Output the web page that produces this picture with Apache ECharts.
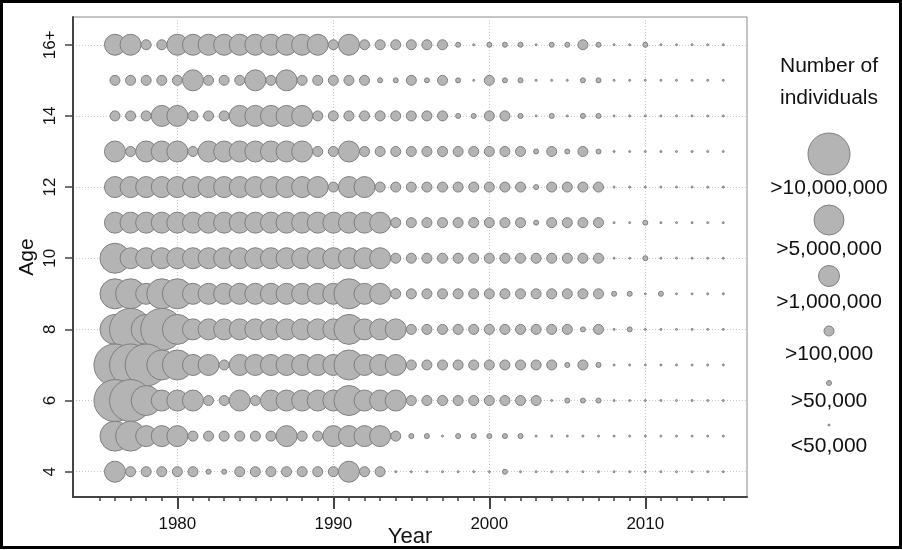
<!DOCTYPE html>
<html>
<head>
<meta charset="utf-8">
<title>Number of individuals by age and year</title>
<script src="https://cdn.jsdelivr.net/npm/echarts@6/dist/echarts.min.js"></script>
<style>
  html, body { margin: 0; padding: 0; background: #fff; }
  #chart { width: 902px; height: 550px; }
</style>
</head>
<body>
<div id="chart"></div>
<script>
// x categories
const years = [1976, 1977, 1978, 1979, 1980, 1981, 1982, 1983, 1984, 1985,
               1986, 1987, 1988, 1989, 1990, 1991, 1992, 1993, 1994, 1995,
               1996, 1997, 1998, 1999, 2000, 2001, 2002, 2003, 2004, 2005,
               2006, 2007, 2008, 2009, 2010, 2011, 2012, 2013, 2014, 2015];

// size class read for each year (0 = <50,000 ... 5 = >10,000,000)
const age16 = [3,3,2,2,3,3,3,3,3,3, 3,3,3,3,2,3,2,2,2,2, 2,2,1,0,1,1,1,0,1,1, 2,1,0,0,1,0,0,0,0,0];
const age15 = [2,2,2,2,2,3,2,2,2,3, 2,3,2,2,2,2,2,1,1,2, 1,2,1,0,2,1,1,0,0,0, 1,1,0,0,0,0,0,0,0,0];
const age14 = [2,2,2,3,3,2,2,2,3,3, 3,3,3,2,2,2,2,2,2,2, 2,2,1,1,2,2,1,0,1,0, 1,1,0,0,0,0,0,0,0,0];
const age13 = [3,2,3,3,3,2,3,3,3,3, 3,3,3,2,2,3,2,2,2,2, 2,2,2,2,2,2,2,1,2,1, 2,1,0,0,0,0,0,0,0,0];
const age12 = [3,3,3,3,3,3,3,3,3,3, 3,3,3,3,2,3,3,2,2,2, 2,2,2,2,2,2,2,1,2,2, 2,2,0,0,0,0,0,0,0,0];
const age11 = [3,3,3,3,3,3,3,3,3,3, 3,3,3,3,3,3,3,3,2,2, 2,2,2,2,2,2,2,1,2,2, 2,2,0,0,1,0,0,0,0,0];
const age10 = [4,3,3,3,3,3,3,3,3,3, 3,3,3,3,3,3,3,3,2,2, 2,2,2,2,2,2,2,2,2,2, 2,2,0,0,1,0,0,0,0,0];
const age9  = [4,4,3,4,4,3,3,3,3,3, 3,3,3,3,3,4,3,3,2,2, 2,2,2,2,2,2,2,2,2,2, 2,2,1,1,0,1,0,0,0,0];
const age8  = [4,5,4,5,4,3,3,3,3,3, 3,3,3,3,3,4,3,3,3,2, 2,2,2,2,2,2,2,2,2,2, 1,2,0,1,0,0,0,0,0,0];
const age7  = [5,5,5,4,4,3,3,2,3,3, 3,3,3,3,3,4,3,3,3,2, 2,2,2,2,2,2,2,2,2,1, 2,1,0,0,0,0,0,0,0,0];
const age6  = [5,5,4,3,3,3,2,2,3,2, 3,3,3,3,3,4,3,3,3,2, 2,2,2,2,2,2,2,2,0,1, 1,1,0,0,0,0,0,0,0,0];
const age5  = [4,4,3,3,3,2,2,2,2,2, 2,3,2,2,3,3,3,3,2,1, 1,0,1,1,1,1,1,0,0,0, 0,0,0,0,0,0,0,0,0,0];
const age4  = [3,2,2,2,2,2,1,1,2,2, 2,2,2,2,2,3,2,2,0,0, 0,0,0,0,0,1,0,0,0,0, 0,0,0,0,0,0,0,0,0,0];

const rows = [[16, age16], [15, age15], [14, age14], [13, age13], [12, age12], [11, age11],
              [10, age10], [9, age9], [8, age8], [7, age7], [6, age6], [5, age5], [4, age4]];

const classLabels = ['<50,000', '>50,000', '>100,000', '>1,000,000', '>5,000,000', '>10,000,000'];

// tick labels
const yearTicks = [1980, 1990, 2000, 2010];
const yearMinorTicks = [1975, 1976, 1977, 1978, 1979, 1980, 1981, 1982, 1983, 1984,
                        1985, 1986, 1987, 1988, 1989, 1990, 1991, 1992, 1993, 1994,
                        1995, 1996, 1997, 1998, 1999, 2000, 2001, 2002, 2003, 2004,
                        2005, 2006, 2007, 2008, 2009, 2010, 2011, 2012, 2013, 2014, 2015];
const ageTicks = [4, 6, 8, 10, 12, 14, 16];

// styling
const classSize = [2, 5, 10, 21, 30, 42];
const fill = '#b4b4b4';
const edge = '#7f7f7f';
const font = 'Liberation Sans, Arial, sans-serif';

const points = [];
rows.forEach(([age, classes]) => {
  classes.forEach((c, i) => points.push([years[i], age, c]));
});

// legend, drawn beside the plot
const legendCircleY = [425, 383, 331, 276, 220, 154];
const legendLabelY = [446, 401, 354, 302, 249, 188];
const legendX = 829;
const legendItems = [];
classLabels.forEach((label, k) => {
  legendItems.push({
    type: 'circle',
    shape: { cx: legendX, cy: legendCircleY[k], r: classSize[k] / 2 },
    style: { fill: fill, stroke: edge, lineWidth: 1 }
  });
  legendItems.push({
    type: 'text',
    x: legendX, y: legendLabelY[k],
    style: { text: label, fill: '#111', font: '21px ' + font, align: 'center', verticalAlign: 'middle' }
  });
});

const chart = echarts.init(document.getElementById('chart'));

const option = {
  animation: false,
  grid: {
    left: 73, right: 155, top: 17, bottom: 53,
    outerBoundsMode: 'none',
    containLabel: false,
    show: true, borderColor: '#8a8a8a', borderWidth: 1
  },
  xAxis: [
    {
      type: 'value',
      min: 1973.31, max: 2016.52,
      name: 'Year',
      nameLocation: 'middle',
      nameGap: 29,
      nameMoveOverlap: false,
      nameTextStyle: { fontSize: 22, fontFamily: font, color: '#111' },
      axisLine: { show: true, onZero: false, lineStyle: { color: '#444', width: 2 } },
      axisTick: { show: true, customValues: yearTicks, length: 12, lineStyle: { color: '#444', width: 2 } },
      axisLabel: {
        customValues: yearTicks, fontSize: 17, fontFamily: font, color: '#111', margin: 19,
        formatter: v => String(v)
      },
      splitLine: { show: true, lineStyle: { color: '#c8c8c8', type: [1, 2], width: 1 } }
    },
    {
      type: 'value',
      min: 1973.31, max: 2016.52,
      position: 'bottom',
      axisLine: { show: false },
      axisTick: { show: true, customValues: yearMinorTicks, length: 4, lineStyle: { color: '#444', width: 1.5 } },
      axisLabel: { show: false },
      splitLine: { show: false }
    }
  ],
  yAxis: {
    type: 'value',
    min: 3.289, max: 16.78,
    name: 'Age',
    nameLocation: 'middle',
    nameGap: 35,
    nameMoveOverlap: false,
    nameTextStyle: { fontSize: 21, fontFamily: font, color: '#111' },
    axisLine: { show: true, onZero: false, lineStyle: { color: '#444', width: 2 } },
    axisTick: { show: true, customValues: ageTicks, length: 8, lineStyle: { color: '#444', width: 1.5 } },
    axisLabel: {
      customValues: ageTicks, rotate: 90, fontSize: 17, fontFamily: font, color: '#111', margin: 14,
      formatter: v => (v === 16 ? '16+' : String(v))
    },
    splitLine: { show: true, lineStyle: { color: '#c8c8c8', type: [1, 2], width: 1 } }
  },
  series: [{
    type: 'scatter',
    data: points,
    symbolSize: v => classSize[v[2]],
    itemStyle: { color: fill, borderColor: edge, borderWidth: 1, opacity: 1 },
    silent: true
  }],
  graphic: [
    {
      type: 'text', x: legendX, y: 66,
      style: { text: 'Number of', fill: '#111', font: '21px ' + font, align: 'center', verticalAlign: 'middle' }
    },
    {
      type: 'text', x: legendX, y: 98,
      style: { text: 'individuals', fill: '#111', font: '21px ' + font, align: 'center', verticalAlign: 'middle' }
    },
    ...legendItems,
    {
      type: 'rect',
      shape: { x: 1.5, y: 1.5, width: 899, height: 546 },
      style: { fill: 'none', stroke: '#000', lineWidth: 3 },
      z: 100
    }
  ]
};

chart.setOption(option);
</script>
</body>
</html>
